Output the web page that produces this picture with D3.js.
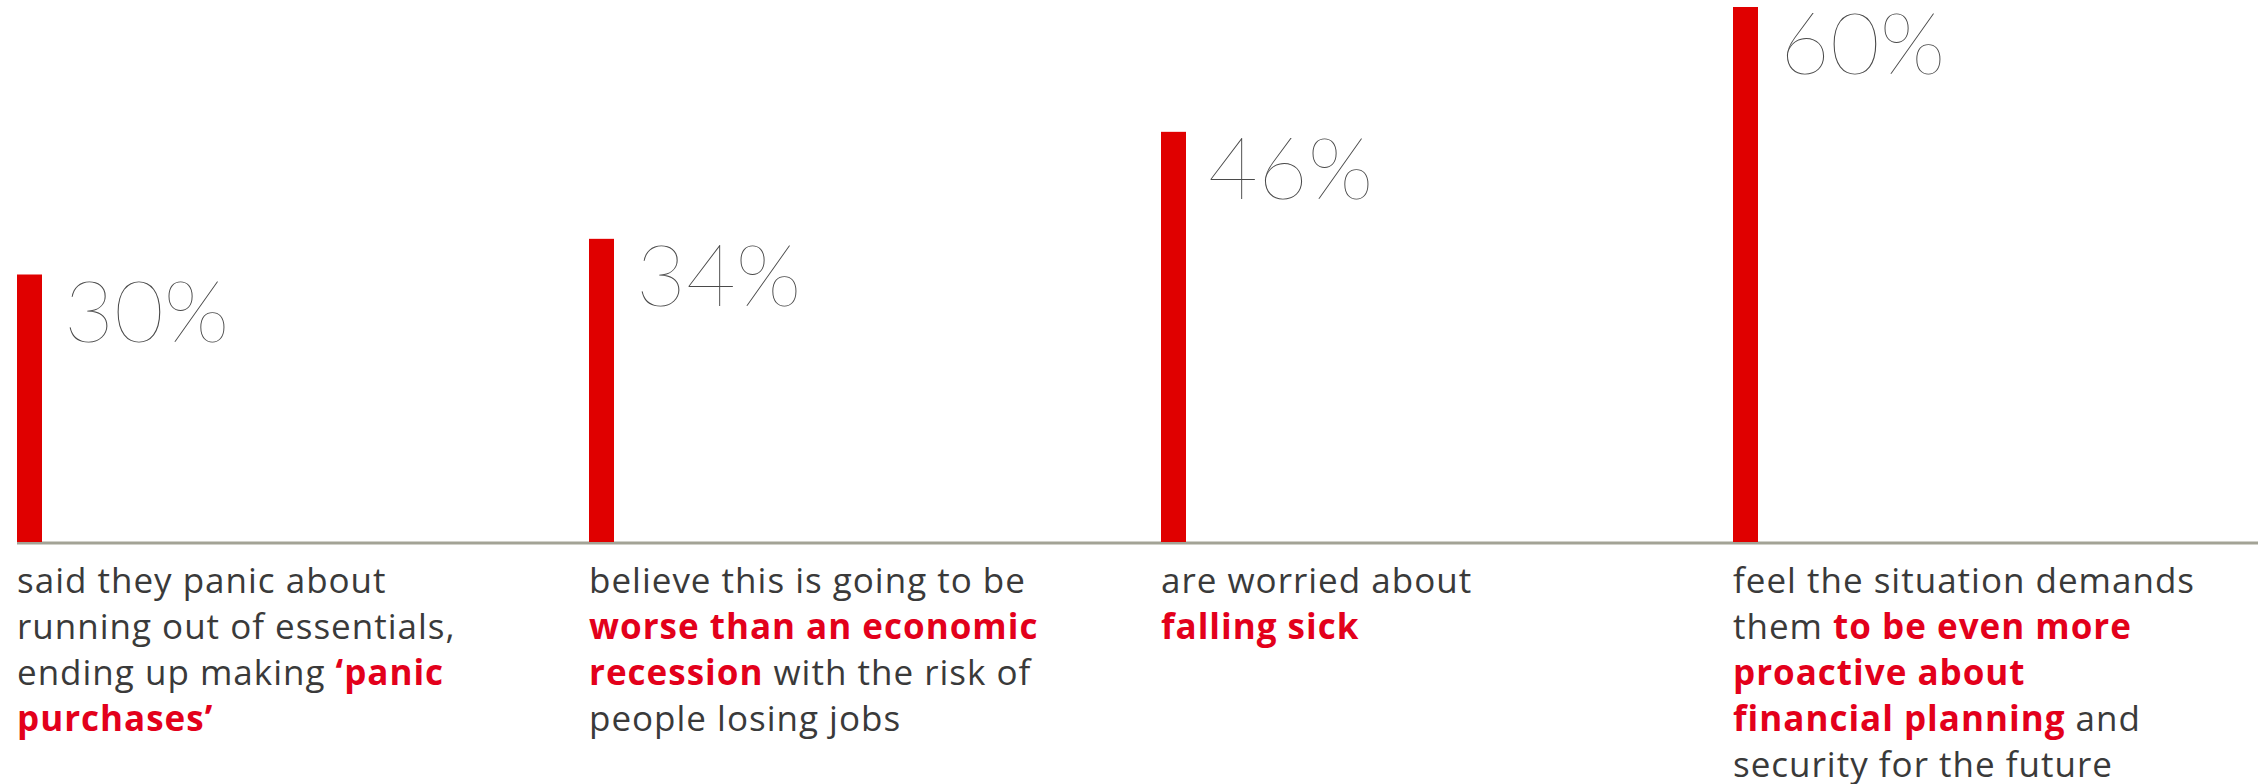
<!DOCTYPE html>
<html>
<head>
<meta charset="utf-8">
<script src="https://cdn.jsdelivr.net/npm/d3@7"></script>
<style>
  html, body { margin: 0; padding: 0; background: #fff; }
  svg { display: block; }
  .value-label { font-family: Lato, Roboto, sans-serif; font-weight: 100; fill: #4a4a4a; }
  .desc { font-family: "Open Sans", Lato, sans-serif; fill: #3a3a3a; letter-spacing: 1px; }
  .desc .hl { fill: #e3001b; font-weight: 700; letter-spacing: 1px; }
</style>
</head>
<body>
<svg></svg>
<script>
const SIZE = { width: 2267, height: 784 }
const CHART = {
  left: 17,
  step: 572,
  baseline: 542,
  top: 7,
  barWidth: 25,
  lineEnd: 2258,
  labelGap: 22,
  labelDrop: 67,
  descFirst: 593,
  descLine: 46
}

const RED = '#e00000'

// survey answers, one per bar
const categories = ['panic', 'recession', 'sick', 'planning']
const values = [30, 34, 46, 60]

// description lines: [text, highlighted?]
const descriptions = [
  [
    [['said they panic about', false]],
    [['running out of essentials,', false]],
    [['ending up making ', false], ['\u2018panic', true]],
    [['purchases\u2019', true]]
  ],
  [
    [['believe this is going to be', false]],
    [['worse than an economic', true]],
    [['recession', true], [' with the risk of', false]],
    [['people losing jobs', false]]
  ],
  [
    [['are worried about', false]],
    [['falling sick', true]]
  ],
  [
    [['feel the situation demands', false]],
    [['them ', false], ['to be even more', true]],
    [['proactive about', true]],
    [['financial planning', true], [' and', false]],
    [['security for the future', false]]
  ]
]

const svg = d3.select('svg')
  .attr('width', SIZE.width)
  .attr('height', SIZE.height)

const xScale = d3.scaleBand()
  .domain(categories)
  .range([CHART.left, CHART.left + CHART.step * categories.length])
  .paddingInner(0)

const yScale = d3.scaleLinear()
  .domain([0, d3.max(values)])
  .range([CHART.baseline, CHART.top])

const rows = categories.map((c, i) => ({ key: c, value: values[i], desc: descriptions[i] }))

// baseline
svg.append('line')
  .attr('x1', CHART.left)
  .attr('x2', CHART.lineEnd)
  .attr('y1', CHART.baseline + 1)
  .attr('y2', CHART.baseline + 1)
  .attr('stroke', '#a3a396')
  .attr('stroke-width', 3)

svg.append('g').selectAll('rect')
  .data(rows)
  .join('rect')
  .attr('x', d => xScale(d.key))
  .attr('y', d => yScale(d.value))
  .attr('width', CHART.barWidth)
  .attr('height', d => yScale(0) - yScale(d.value))
  .attr('fill', RED)

svg.append('g').selectAll('text')
  .data(rows)
  .join('text')
  .attr('class', 'value-label')
  .attr('x', d => xScale(d.key) + CHART.barWidth + CHART.labelGap)
  .attr('y', d => yScale(d.value) + CHART.labelDrop)
  .attr('font-size', 86)
  .text(d => d.value + '%')

const desc = svg.append('g').selectAll('text')
  .data(rows)
  .join('text')
  .attr('class', 'desc')
  .attr('font-size', 35)
  .attr('y', CHART.descFirst)

desc.each(function(d) {
  const text = d3.select(this)
  d.desc.forEach((line, li) => {
    line.forEach((seg, si) => {
      const t = text.append('tspan')
        .text(seg[0])
        .classed('hl', seg[1])
      if (si === 0) {
        t.attr('x', xScale(d.key)).attr('y', CHART.descFirst + li * CHART.descLine)
      }
    })
  })
})
</script>
</body>
</html>
